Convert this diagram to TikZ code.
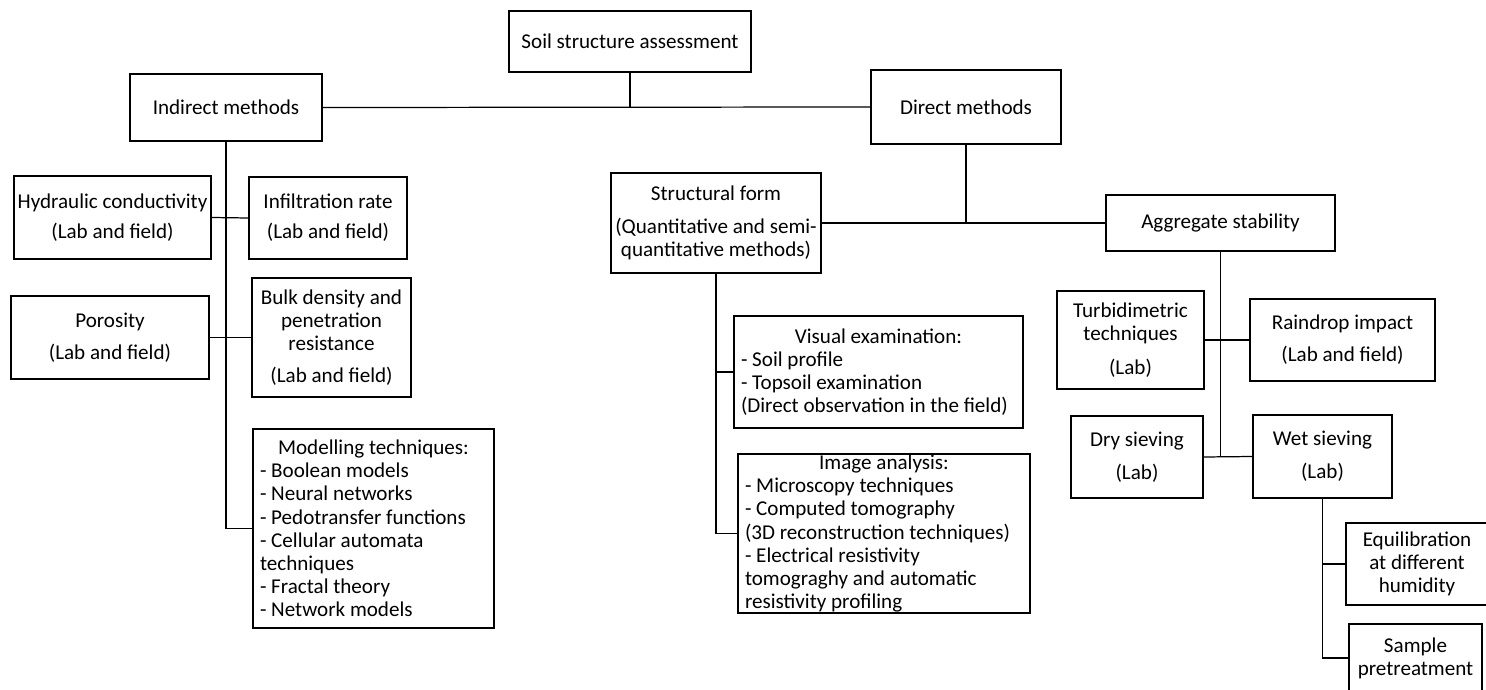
\documentclass[tikz,border=0pt]{standalone}
\usepackage{fontspec}
\setmainfont{Carlito}
\usetikzlibrary{positioning}

\begin{document}
\begin{tikzpicture}[line width=0.7pt,
 blk/.style={draw,align=center,inner sep=2pt,font=\fontsize{12}{13.2}\selectfont},
 lst/.style={draw,align=flush left,inner xsep=0.14cm,inner ysep=1pt,font=\fontsize{12}{13.2}\selectfont}]
\useasboundingbox (0,0) rectangle (29.72,-13.8);
\newcommand{\hdline}[1]{\makebox[\linewidth][c]{#1}}
\node[blk,minimum width=4.84cm,minimum height=1.22cm] (soil) at (12.6,-0.83) {Soil structure assessment};
\node[blk,minimum width=3.84cm,minimum height=1.34cm] (ind) at (4.52,-2.15) {Indirect methods};
\node[blk,minimum width=3.80cm,minimum height=1.48cm] (dir) at (19.32,-2.14) {Direct methods};
\node[blk,minimum width=3.94cm,minimum height=1.66cm] (hyd) at (2.25,-4.35) {Hydraulic conductivity\\[4pt](Lab and field)};
\node[blk,minimum width=3.16cm,minimum height=1.64cm] (inf) at (6.56,-4.36) {Infiltration rate\\[4pt](Lab and field)};
\node[blk,minimum width=3.96cm,minimum height=1.66cm] (por) at (2.20,-6.75) {Porosity\\[5pt](Lab and field)};
\node[blk,minimum width=3.18cm,minimum height=2.38cm] (bulk) at (6.63,-6.75) {Bulk density and\\penetration\\resistance\\[5pt](Lab and field)};
\node[lst,minimum width=4.82cm,minimum height=3.98cm,text width=4.54cm] (mod) at (7.47,-10.57) {\hdline{Modelling techniques:}\\- Boolean models\\- Neural networks\\- Pedotransfer functions\\- Cellular automata\\techniques\\- Fractal theory\\- Network models};
\node[blk,minimum width=4.20cm,minimum height=2.00cm] (sf) at (14.32,-4.46) {Structural form\\[5.5pt](Quantitative and semi-\\quantitative methods)};
\node[blk,minimum width=4.58cm,minimum height=1.12cm] (agg) at (24.41,-4.46) {Aggregate stability};
\node[lst,minimum width=5.78cm,minimum height=2.24cm,text width=5.50cm] (vis) at (17.57,-7.44) {\hdline{Visual examination:}\\- Soil profile\\- Topsoil examination\\(Direct observation in the field)};
\node[lst,inner ysep=0pt,minimum width=5.84cm,minimum height=3.18cm,text width=5.56cm] (img) at (17.68,-10.67) {\hdline{Image analysis:}\\- Microscopy techniques\\- Computed tomography\\(3D reconstruction techniques)\\- Electrical resistivity\\tomograghy and automatic\\resistivity profiling};
\node[blk,minimum width=2.94cm,minimum height=1.96cm] (turb) at (22.61,-6.80) {Turbidimetric\\techniques\\[6pt](Lab)};
\node[blk,minimum width=3.70cm,minimum height=1.64cm] (rain) at (26.85,-6.80) {Raindrop impact\\[5pt](Lab and field)};
\node[blk,minimum width=2.64cm,minimum height=1.64cm] (dry) at (22.74,-9.14) {Dry sieving\\[5.5pt](Lab)};
\node[blk,minimum width=2.78cm,minimum height=1.66cm] (wet) at (26.45,-9.13) {Wet sieving\\[5.5pt](Lab)};
\node[blk,minimum width=2.84cm,minimum height=1.64cm] (equ) at (28.34,-11.28) {Equilibration\\at different\\humidity};
\node[blk,minimum width=2.66cm,minimum height=1.36cm] (samp) at (28.31,-13.16) {Sample\\pretreatment};
\draw (soil.south) -- (soil.south |- ind.east);
\draw (ind.east) -- (dir.west);
\draw (ind.south) |- (mod.west);
\draw (hyd.east) -- (inf.west);
\draw (por.east) -- (bulk.west);
\draw (dir.south) -- (dir.south |- sf.east);
\draw (sf.east) -- (agg.west);
\draw (sf.south) |- (img.west);
\draw (sf.south |- vis.west) -- (vis.west);
\draw (agg.south) -- (agg.south |- dry.east);
\draw (turb.east) -- (rain.west);
\draw (dry.east) -- (wet.west);
\draw (wet.south) |- (samp.west);
\draw (wet.south |- equ.west) -- (equ.west);
\end{tikzpicture}
\end{document}
